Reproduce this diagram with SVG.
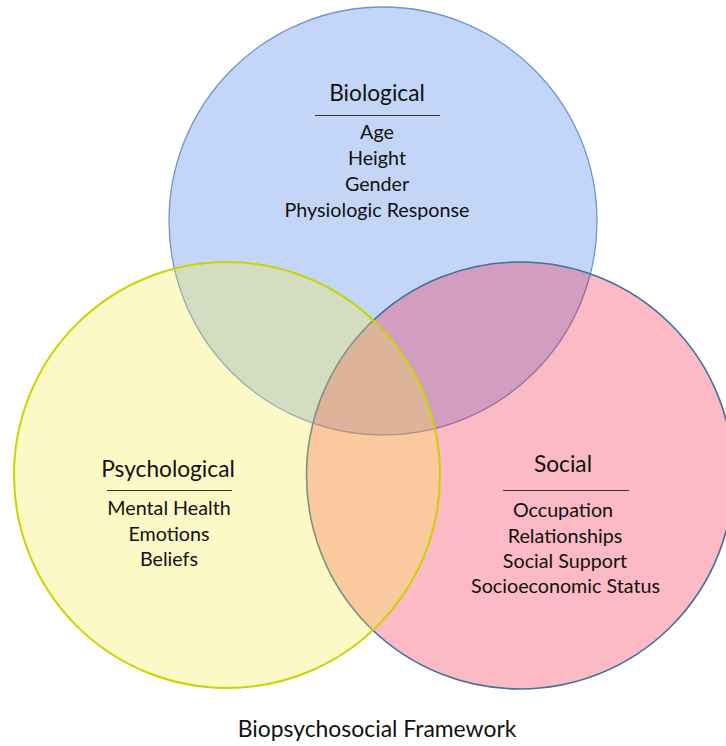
<svg xmlns="http://www.w3.org/2000/svg" width="726" height="746" viewBox="0 0 726 746">
  <style>
    .hd { font-family: Lato, "Open Sans", "Liberation Sans", sans-serif; font-size: 22.7px; fill: #111; text-anchor: middle; }
    .cap { font-family: Lato, "Open Sans", "Liberation Sans", sans-serif; font-size: 22.9px; fill: #111; text-anchor: middle; }
    .it { font-family: Lato, "Open Sans", "Liberation Sans", sans-serif; font-size: 19.7px; fill: #111; text-anchor: middle; }
    .rule { stroke: #333; stroke-width: 1.2; }
  </style>
  <rect width="726" height="746" fill="#ffffff"/>
  <g id="biological">
    <circle cx="383" cy="221" r="214" fill="rgb(196,214,248)" stroke="#6f93d6" stroke-width="1.3"/>
    <text class="hd" x="377" y="101">Biological</text>
    <line class="rule" x1="315" y1="115.5" x2="440" y2="115.5"/>
    <text class="it" x="377" y="139">Age</text>
    <text class="it" x="377" y="165">Height</text>
    <text class="it" x="377" y="191">Gender</text>
    <text class="it" x="377" y="217">Physiologic Response</text>
  </g>
  <g id="social">
    <circle cx="520" cy="475.5" r="213.5" fill="rgb(242,25,60)" fill-opacity="0.3" stroke="#41719c" stroke-width="1.6"/>
    <text class="hd" x="563" y="472">Social</text>
    <line class="rule" x1="503" y1="490.5" x2="629" y2="490.5"/>
    <text class="it" x="563" y="517">Occupation</text>
    <text class="it" x="565" y="543">Relationships</text>
    <text class="it" x="565" y="568">Social Support</text>
    <text class="it" x="565.5" y="593">Socioeconomic Status</text>
  </g>
  <g id="psychological">
    <circle cx="227" cy="475" r="213" fill="rgb(250,236,70)" fill-opacity="0.3" stroke="#c8d400" stroke-width="2"/>
    <text class="hd" x="168" y="477">Psychological</text>
    <line class="rule" x1="107" y1="490.5" x2="232" y2="490.5"/>
    <text class="it" x="169" y="515">Mental Health</text>
    <text class="it" x="169" y="541">Emotions</text>
    <text class="it" x="169" y="566">Beliefs</text>
  </g>
  <g id="connectors"></g>
  <text class="cap" x="377" y="737">Biopsychosocial Framework</text>
</svg>
